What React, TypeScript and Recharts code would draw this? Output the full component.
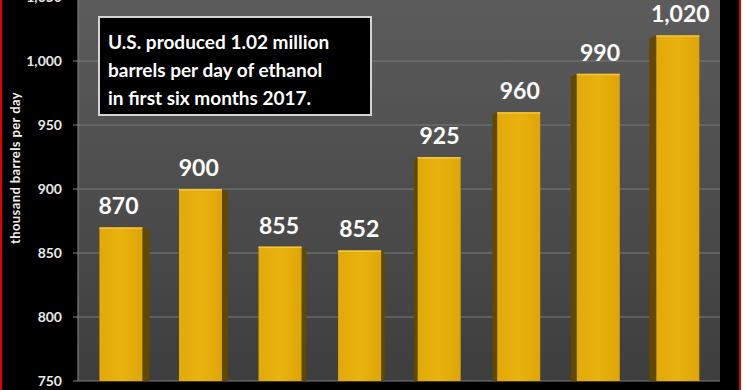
import React from 'react';
import { BarChart, Bar, XAxis, YAxis, CartesianGrid, LabelList } from 'recharts';

const years = ['2010', '2011', '2012', '2013', '2014', '2015', '2016', '2017'];
const production = [870, 900, 855, 852, 925, 960, 990, 1020];
const yTicks = [750, 800, 850, 900, 950, 1000, 1050];

const data = years.map((year, i) => ({ year, value: production[i] }));

const W = 745;
const H = 390;
const margin = { top: -3, right: 25, left: 0, bottom: 9 };
const yAxisWidth = 78;
const plotLeft = margin.left + yAxisWidth;
const plotRight = W - margin.right;
const band = (plotRight - plotLeft) / years.length;
const center = (plotLeft + plotRight) / 2;
const font = 'Lato, "Open Sans", sans-serif';

// front face + a dark side facing the middle, a bit of fake perspective
function Bar3D(props: any) {
  const { x, y, width, height } = props;
  if (height <= 0) return null;
  const cx = x + width / 2;
  const dx = (center - cx) * 0.0086;
  const fx = x + dx;
  const bottom = y + height;
  const depth = 3 + (Math.abs(center - cx) / 280) * 4;
  const left = cx > center;
  const side = left
    ? `${fx},${y} ${fx - depth},${y + 3} ${fx - depth},${bottom} ${fx},${bottom}`
    : `${fx + width},${y} ${fx + width + depth},${y + 3} ${fx + width + depth},${bottom} ${fx + width},${bottom}`;
  return (
    <g>
      <polygon points={side} fill="#614a00" />
      <rect x={fx} y={y} width={width} height={height} fill="url(#barFront)" />
      <rect x={fx} y={y} width={width} height={1.5} fill="#f3c63a" />
    </g>
  );
}

function XTick(props: any) {
  const { x, y, index, payload } = props;
  return (
    <g>
      <line x1={x + band / 2} y1={y} x2={x + band / 2} y2={y + 7} stroke="#8a8a8a" />
      {index === 0 && <line x1={x - band / 2} y1={y} x2={x - band / 2} y2={y + 7} stroke="#8a8a8a" />}
      <text x={x} y={y + 24} fill="#fff" textAnchor="middle" fontSize={14} fontWeight={700} fontFamily={font}>
        {payload.value}
      </text>
    </g>
  );
}

function YLabel() {
  return (
    <text
      x={15}
      y={168}
      transform="rotate(-90 15 168)"
      textAnchor="middle"
      dominantBaseline="central"
      fill="#f0f0f0"
      fontSize={13}
      fontWeight={700}
      letterSpacing={0.4}
      fontFamily={font}
    >
      thousand barrels per day
    </text>
  );
}

export default function App() {
  return (
    <div style={{ position: 'fixed', left: 0, top: 0, width: W, height: H, background: '#fff', overflow: 'hidden' }}>
      <div style={{ position: 'absolute', left: 0, top: 0, width: 741, height: H, background: '#000' }} />
      <div style={{ position: 'absolute', left: 0, top: 0, width: 2, height: H, background: '#e00000' }} />
      <div style={{ position: 'absolute', left: 739, top: 0, width: 2, height: H, background: '#e00000' }} />
      <div style={{ position: 'absolute', left: 0, top: 0 }}>
        <BarChart width={W} height={H} data={data} margin={margin} barSize={43}>
          <defs>
            <linearGradient id="wall" x1="0" y1="0" x2="0" y2="1">
              <stop offset="0%" stopColor="#5c5c5c" />
              <stop offset="100%" stopColor="#3e3e3e" />
            </linearGradient>
            <linearGradient id="barFront" x1="0" y1="0" x2="1" y2="0">
              <stop offset="0%" stopColor="#e2aa08" />
              <stop offset="50%" stopColor="#e9b20f" />
              <stop offset="100%" stopColor="#dda606" />
            </linearGradient>
          </defs>
          <CartesianGrid vertical={false} stroke="#7a7a7a" fill="url(#wall)" />
          <XAxis
            dataKey="year"
            height={0}
            interval={0}
            tickLine={false}
            tickSize={0}
            tickMargin={0}
            axisLine={{ stroke: '#8a8a8a' }}
            tick={<XTick />}
          />
          <YAxis
            width={yAxisWidth}
            domain={[750, 1050]}
            ticks={yTicks}
            interval={0}
            tickSize={5}
            tickMargin={11}
            axisLine={{ stroke: '#8a8a8a' }}
            tickLine={{ stroke: '#8a8a8a' }}
            tickFormatter={(v: number) => v.toLocaleString('en-US')}
            tick={{ fill: '#e8e8e8', fontSize: 14, fontWeight: 700, fontFamily: font }}
            label={<YLabel />}
          />
          <Bar dataKey="value" shape={<Bar3D />} isAnimationActive={false}>
            <LabelList
              dataKey="value"
              position="top"
              offset={13}
              fill="#ffffff"
              formatter={(v: any) => Number(v).toLocaleString('en-US')}
              style={{ fontSize: 23, fontWeight: 700, fontFamily: font }}
            />
          </Bar>
        </BarChart>
      </div>
      <div
        style={{
          position: 'absolute',
          left: 98,
          top: 16,
          width: 274,
          height: 100,
          border: '2px solid #d4d4d4',
          background: '#000',
          color: '#fff',
          fontFamily: font,
          fontWeight: 700,
          fontSize: 19,
          lineHeight: '28px',
          padding: '10px 0 0 8px',
          boxSizing: 'border-box',
          whiteSpace: 'nowrap',
        }}
      >
        U.S. produced 1.02 million
        <br />
        barrels per day of ethanol
        <br />
        in first six months 2017.
      </div>
    </div>
  );
}
